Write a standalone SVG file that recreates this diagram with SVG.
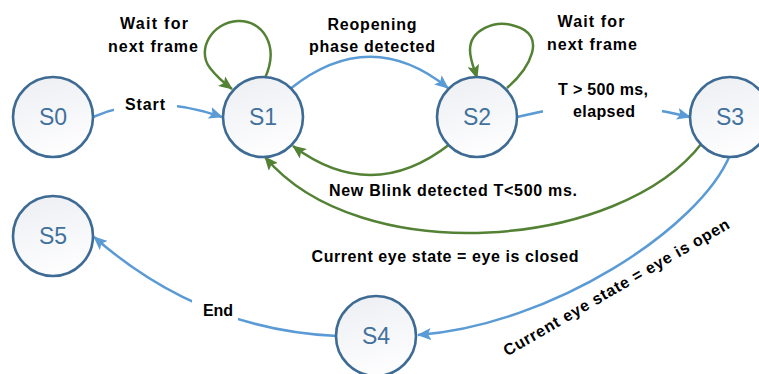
<svg xmlns="http://www.w3.org/2000/svg" width="759" height="374" viewBox="0 0 759 374">
<style>
.node{stroke:#3e6b94;stroke-width:2.6;fill:url(#nf)}
.nt{font-family:"Liberation Sans",Arial,sans-serif;font-size:23px;fill:#41719c;text-anchor:middle}
.cb{fill:none;stroke:#5b9bd5;stroke-width:2.5}
.cg{fill:none;stroke:#548235;stroke-width:2.5}
.lb{font-family:"Liberation Sans",Arial,sans-serif;font-size:16px;font-weight:bold;fill:#000;text-anchor:middle}
.bg{fill:#fff}
</style>
<defs>
<linearGradient id="nf" x1="0" y1="0" x2="0.3" y2="1">
<stop offset="0" stop-color="#eceef2"/>
<stop offset="1" stop-color="#fdfdfe"/>
</linearGradient>
<marker id="ab" markerUnits="userSpaceOnUse" markerWidth="14" markerHeight="12" refX="13" refY="6" orient="auto">
<path d="M0,0 L14,6 L0,12 L3,6 z" fill="#5b9bd5"/>
</marker>
<marker id="ag" markerUnits="userSpaceOnUse" markerWidth="14" markerHeight="12" refX="13" refY="6" orient="auto">
<path d="M0,0 L14,6 L0,12 L3,6 z" fill="#548235"/>
</marker>
</defs>
<rect width="759" height="374" fill="#fff"/>
<g id="connectors">
<path id="e-s0-s1" class="cb" d="M93,117 Q150,92 222,117" marker-end="url(#ab)"/>
<path id="e-s1-s1" class="cg" d="M265,78 C280,45 262,20 238,21 C212,22 196,50 210,68 C217,77 224,83 232,89" marker-end="url(#ag)"/>
<path id="e-s1-s2" class="cb" d="M290,89 Q370,25 448,88" marker-end="url(#ab)"/>
<path id="e-s2-s2" class="cg" d="M507,88 C530,68 548,35 515,26 C495,19 470,30 470,50 C470,60 474,68 477,78" marker-end="url(#ag)"/>
<path id="e-s2-s1" class="cg" d="M450,144 Q372,205 293,146" marker-end="url(#ag)"/>
<path id="e-s2-s3" class="cb" d="M517,117 Q603,95 690,117" marker-end="url(#ab)"/>
<path id="e-s3-s1" class="cg" d="M702,143 C620,250 360,270 265,157" marker-end="url(#ag)"/>
<path id="e-s3-s4" class="cb" d="M730,155 C700,228 552,325 418,335" marker-end="url(#ab)"/>
<path id="e-s4-s5" class="cb" d="M337,336 Q200,330 94,237" marker-end="url(#ab)"/>
</g>
<g id="labels">
<rect class="bg" x="114" y="90" width="63" height="26"/>
<text class="lb" x="145" y="110" textLength="40" lengthAdjust="spacing">Start</text>
<text class="lb" x="154" y="29" textLength="68" lengthAdjust="spacing">Wait for</text>
<text class="lb" x="153" y="52" textLength="90" lengthAdjust="spacing">next frame</text>
<text class="lb" x="372" y="30" textLength="89" lengthAdjust="spacing">Reopening</text>
<text class="lb" x="372" y="52" textLength="126" lengthAdjust="spacing">phase detected</text>
<text class="lb" x="591" y="27" textLength="67" lengthAdjust="spacing">Wait for</text>
<text class="lb" x="592" y="50" textLength="90" lengthAdjust="spacing">next frame</text>
<rect class="bg" x="543" y="78" width="119" height="44"/>
<text class="lb" x="603" y="95" textLength="90" lengthAdjust="spacing">T &gt; 500 ms,</text>
<text class="lb" x="604" y="117" textLength="62" lengthAdjust="spacing">elapsed</text>
<text class="lb" x="453" y="196" textLength="248" lengthAdjust="spacing">New Blink detected T&lt;500 ms.</text>
<text class="lb" x="445" y="262" textLength="267" lengthAdjust="spacing">Current eye state =  eye is closed</text>
<text class="lb" transform="translate(619,292) rotate(-30)" textLength="258" lengthAdjust="spacing">Current eye state =  eye is open</text>
<rect class="bg" x="192" y="292" width="46" height="34"/>
<text class="lb" x="218" y="316" textLength="30" lengthAdjust="spacing">End</text>
</g>
<g id="S0"><circle class="node" cx="53" cy="117" r="40"/><text class="nt" x="53" y="125">S0</text></g>
<g id="S1"><circle class="node" cx="263" cy="117" r="40"/><text class="nt" x="263" y="125">S1</text></g>
<g id="S2"><circle class="node" cx="477" cy="117" r="40"/><text class="nt" x="477" y="125">S2</text></g>
<g id="S3"><circle class="node" cx="730" cy="117" r="40"/><text class="nt" x="730" y="125">S3</text></g>
<g id="S4"><circle class="node" cx="376" cy="336" r="40"/><text class="nt" x="376" y="344">S4</text></g>
<g id="S5"><circle class="node" cx="53" cy="236" r="40"/><text class="nt" x="53" y="244">S5</text></g>
</svg>
